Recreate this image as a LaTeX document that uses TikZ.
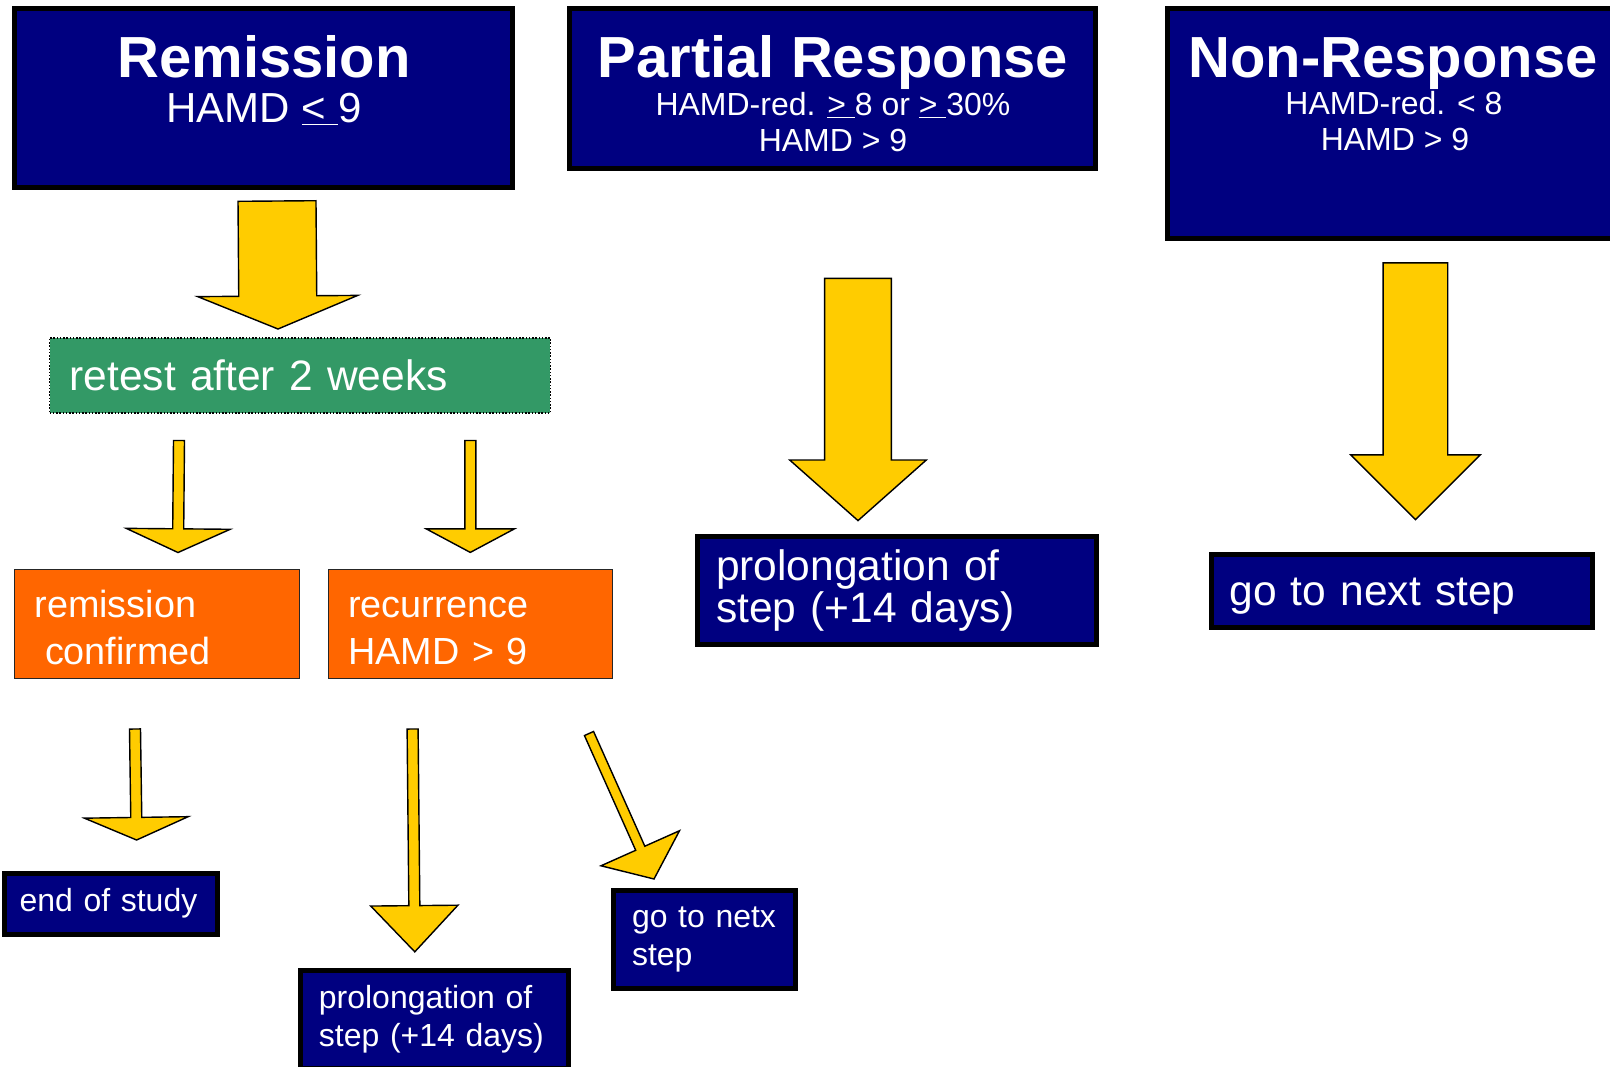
\documentclass[tikz,border=0pt]{standalone}
\usepackage{fontspec}
\setmainfont{Liberation Sans}
\usetikzlibrary{calc}
\definecolor{HamdNavy}{RGB}{0,0,128}
\definecolor{ArrowYellow}{RGB}{255,204,0}
\definecolor{RetestGreen}{RGB}{51,153,102}
\definecolor{RecurOrange}{RGB}{255,102,0}

% line strut with the ascent and descent of the font
\newcommand{\ppstrut}{\rule[-0.212em]{0pt}{1.117em}}

% block arrow: start, tip, shaft half width, head half width, head length
\newcommand{\fatarrow}[5]{%
    \path ($(#2)!#5!(#1)$) coordinate (fa-b);
    \draw[fat] ($(#1)!#3!90:(#2)$) -- ($(fa-b)!#3!90:(#2)$) -- ($(fa-b)!#4!90:(#2)$) -- (#2)
        -- ($(fa-b)!#4!-90:(#2)$) -- ($(fa-b)!#3!-90:(#2)$) -- ($(#1)!#3!-90:(#2)$) -- cycle;
}

\begin{document}
\begin{tikzpicture}[
    x=0.02cm, y=-0.02cm,
    every node/.style={text=white, outer sep=0pt},
    box/.style={rectangle, align=left},
    headbox/.style={rectangle, draw=black, line width=0.1cm, fill=HamdNavy},
    navybox/.style={box, draw=black, line width=0.1cm, fill=HamdNavy, inner xsep=0.37cm},
    orangebox/.style={box, draw=black!85, line width=0.03cm, fill=RecurOrange, inner xsep=0.4cm, font=\fontsize{21.5}{27}\selectfont},
    greenbox/.style={box, draw=black, densely dotted, line width=0.03cm, fill=RetestGreen, inner xsep=0.4cm, font=\fontsize{24.2}{28}\selectfont},
    headtitle/.style={font=\fontsize{33}{36}\selectfont\bfseries, anchor=base},
    headsub/.style={font=\fontsize{18.2}{20}\selectfont, anchor=base},
    bigtext/.style={font=\fontsize{24.2}{22}\selectfont},
    smalltext/.style={font=\fontsize{18.2}{21.6}\selectfont},
    fat/.style={draw=black, line width=0.8pt, fill=ArrowYellow, line join=miter},
]
\path[use as bounding box, fill=white] (0,0) rectangle (1610,1066);

% Header boxes
\node[headbox, minimum width=9.96cm, minimum height=3.58cm] (rem) at (263.5,98) {};
\node[headbox, minimum width=10.52cm, minimum height=3.2cm] (par) at (832.5,88.5) {};
\node[headbox, minimum width=9.15cm, minimum height=4.6cm] (non) at (1396,123.5) {};

\node[headtitle] (remT) at (264,77) {Remission};
\node[headtitle, font=\fontsize{23.9}{26}\selectfont] (remS) at (264,122) {HAMD \underline{<\ }9};

\node[headtitle] (parT) at (833,77) {Partial Response};
\node[headsub] (parS1) at (833,115) {HAMD-red. \underline{>\ }8 or \underline{>\ }30\%};
\node[headsub] (parS2) at (833,151) {HAMD > 9};

\node[headtitle] (nonT) at (1393,77) {Non-Response};
\node[headsub] (nonS1) at (1394,114) {HAMD-red. < 8};
\node[headsub] (nonS2) at (1395,150) {HAMD > 9};

% Remission branch
\node[greenbox, minimum width=10.02cm, minimum height=1.5cm, text width=9.22cm] (retest) at (300,375.3) {retest after 2 weeks};
\node[orangebox, minimum width=5.7cm, minimum height=2.18cm, text width=4.9cm] (conf) at (157,624) {\ppstrut remission\\\hspace*{.28em}confirmed};
\node[orangebox, minimum width=5.68cm, minimum height=2.18cm, text width=4.88cm] (recur) at (470.3,624) {\ppstrut recurrence\\HAMD > 9};

\node[navybox, smalltext, inner xsep=0.3cm, minimum width=4.25cm, minimum height=1.22cm, text width=3.65cm] (end) at (110.8,903.5) {end of study};
\node[navybox, smalltext, minimum width=5.36cm, minimum height=1.96cm, text width=4.62cm] (prolB) at (434.4,1019.4) {\mbox{prolongation of}\\\mbox{step (+14 days)}};
\node[navybox, smalltext, minimum width=3.64cm, minimum height=1.96cm, text width=2.9cm] (netx) at (704.5,939.5) {\mbox{go to netx}\\step};

% Partial and non response
\node[navybox, bigtext, minimum width=7.98cm, minimum height=2.16cm, text width=7.24cm] (prolM) at (897,590.5) {prolongation of\\step (+14 days)};
\node[navybox, bigtext, minimum width=7.64cm, minimum height=1.46cm, text width=6.9cm] (next) at (1402,590.5) {\ppstrut go to next step};

% Arrow ends
\coordinate (a1s) at (277,201);    \coordinate (a1t) at (278,329);
\coordinate (a2s) at (179,440.5);  \coordinate (a2t) at (178,552.5);
\coordinate (a3s) at (470.3,440.5);\coordinate (a3t) at (470.3,552.4);
\coordinate (a4s) at (858,278.3);  \coordinate (a4t) at (858,520.6);
\coordinate (a5s) at (1415.4,262.9);\coordinate (a5t) at (1415.4,519.6);
\coordinate (a6s) at (135,729);    \coordinate (a6t) at (136.6,840);
\coordinate (a7s) at (412.6,729);  \coordinate (a7t) at (414.8,951.8);
\coordinate (a8s) at (589,733.5);  \coordinate (a8t) at (654,879);

% Arrows
\fatarrow{a1s}{a1t}{0.78cm}{1.6cm}{0.66cm}
\fatarrow{a2s}{a2t}{0.11cm}{1.04cm}{0.474cm}
\fatarrow{a3s}{a3t}{0.11cm}{0.88cm}{0.47cm}
\fatarrow{a4s}{a4t}{0.668cm}{1.366cm}{1.212cm}
\fatarrow{a5s}{a5t}{0.646cm}{1.294cm}{1.294cm}
\fatarrow{a6s}{a6t}{0.11cm}{1.038cm}{0.452cm}
\fatarrow{a7s}{a7t}{0.11cm}{0.872cm}{0.924cm}
\fatarrow{a8s}{a8t}{0.1cm}{0.86cm}{0.674cm}

\end{tikzpicture}
\end{document}
